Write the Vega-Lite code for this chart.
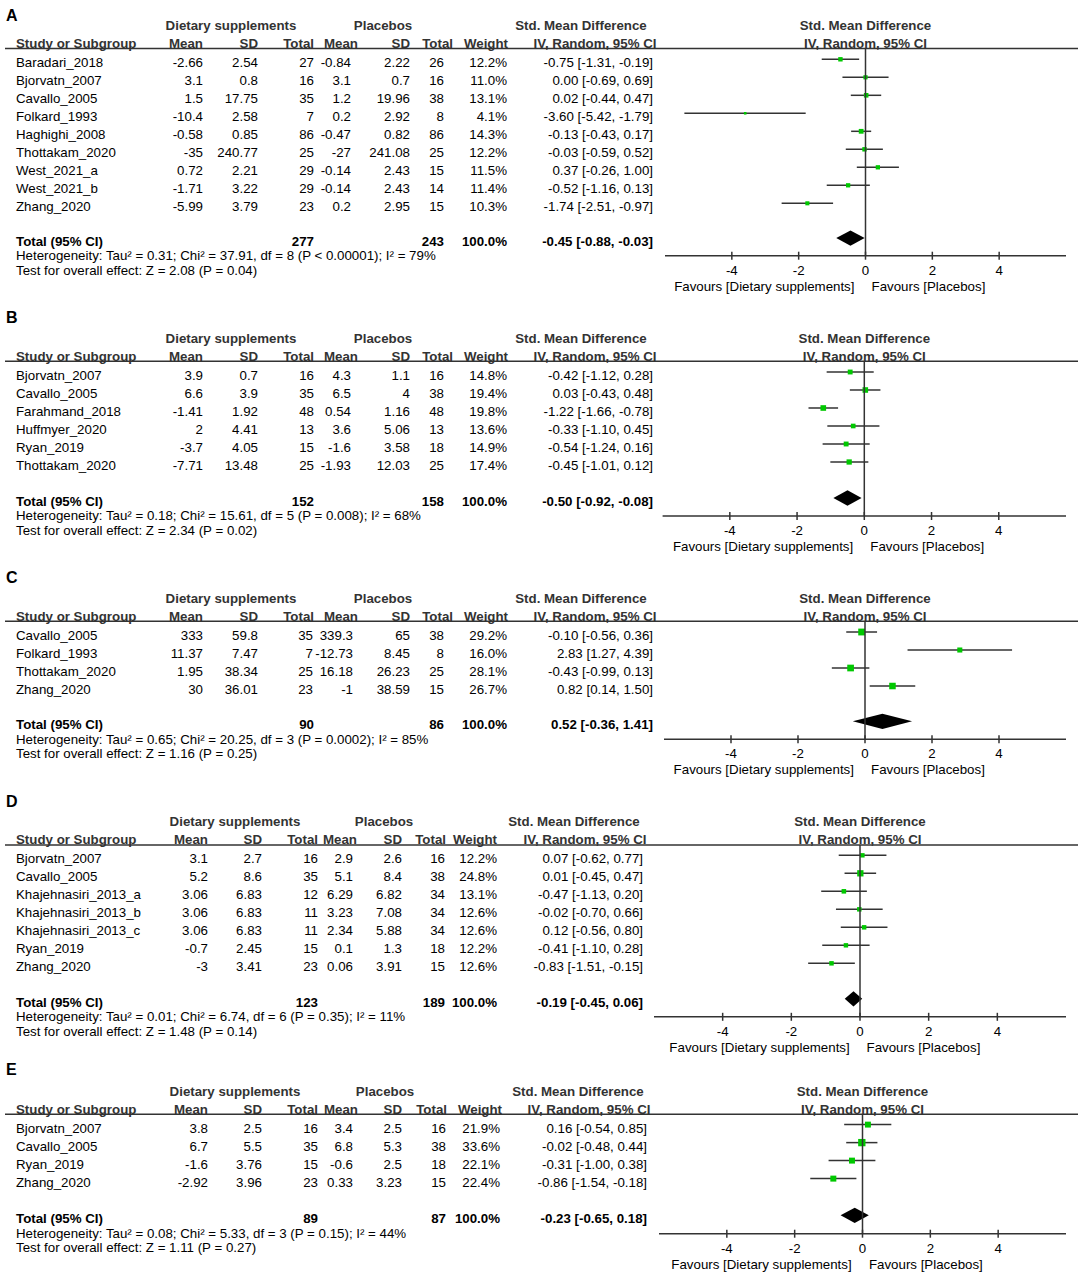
{
"$schema": "https://vega.github.io/schema/vega-lite/v6.json",
"background": "white",
"padding": 0,
"spacing": 0,
"bounds": "flush",
"config": {"view": {"stroke": null}, "text": {"font": "Liberation Sans", "fontSize": 13.3, "baseline": "middle", "dy": 4, "color": "black"}},
"datasets": {
"ticks": [{"v": -4}, {"v": -2}, {"v": 0}, {"v": 2}, {"v": 4}],
"A": [
{"study":"Baradari_2018","m1":-2.66,"sd1":2.54,"n1":27,"m2":-0.84,"sd2":2.22,"n2":26,"w":0.122,"est":-0.75,"lo":-1.31,"hi":-0.19,"ci":"-0.75 [-1.31, -0.19]"},
{"study":"Bjorvatn_2007","m1":3.1,"sd1":0.8,"n1":16,"m2":3.1,"sd2":0.7,"n2":16,"w":0.110,"est":0.00,"lo":-0.69,"hi":0.69,"ci":"0.00 [-0.69, 0.69]"},
{"study":"Cavallo_2005","m1":1.5,"sd1":17.75,"n1":35,"m2":1.2,"sd2":19.96,"n2":38,"w":0.131,"est":0.02,"lo":-0.44,"hi":0.47,"ci":"0.02 [-0.44, 0.47]"},
{"study":"Folkard_1993","m1":-10.4,"sd1":2.58,"n1":7,"m2":0.2,"sd2":2.92,"n2":8,"w":0.041,"est":-3.60,"lo":-5.42,"hi":-1.79,"ci":"-3.60 [-5.42, -1.79]"},
{"study":"Haghighi_2008","m1":-0.58,"sd1":0.85,"n1":86,"m2":-0.47,"sd2":0.82,"n2":86,"w":0.143,"est":-0.13,"lo":-0.43,"hi":0.17,"ci":"-0.13 [-0.43, 0.17]"},
{"study":"Thottakam_2020","m1":-35,"sd1":240.77,"n1":25,"m2":-27,"sd2":241.08,"n2":25,"w":0.122,"est":-0.03,"lo":-0.59,"hi":0.52,"ci":"-0.03 [-0.59, 0.52]"},
{"study":"West_2021_a","m1":0.72,"sd1":2.21,"n1":29,"m2":-0.14,"sd2":2.43,"n2":15,"w":0.115,"est":0.37,"lo":-0.26,"hi":1.00,"ci":"0.37 [-0.26, 1.00]"},
{"study":"West_2021_b","m1":-1.71,"sd1":3.22,"n1":29,"m2":-0.14,"sd2":2.43,"n2":14,"w":0.114,"est":-0.52,"lo":-1.16,"hi":0.13,"ci":"-0.52 [-1.16, 0.13]"},
{"study":"Zhang_2020","m1":-5.99,"sd1":3.79,"n1":23,"m2":0.2,"sd2":2.95,"n2":15,"w":0.103,"est":-1.74,"lo":-2.51,"hi":-0.97,"ci":"-1.74 [-2.51, -0.97]"}
],
"As": [{"n1":277,"n2":243,"est":-0.45,"lo":-0.88,"hi":-0.03,"ci":"-0.45 [-0.88, -0.03]","het":"Heterogeneity: Tau² = 0.31; Chi² = 37.91, df = 8 (P < 0.00001); I² = 79%","test":"Test for overall effect: Z = 2.08 (P = 0.04)"}],
"B": [
{"study":"Bjorvatn_2007","m1":3.9,"sd1":0.7,"n1":16,"m2":4.3,"sd2":1.1,"n2":16,"w":0.148,"est":-0.42,"lo":-1.12,"hi":0.28,"ci":"-0.42 [-1.12, 0.28]"},
{"study":"Cavallo_2005","m1":6.6,"sd1":3.9,"n1":35,"m2":6.5,"sd2":4,"n2":38,"w":0.194,"est":0.03,"lo":-0.43,"hi":0.48,"ci":"0.03 [-0.43, 0.48]"},
{"study":"Farahmand_2018","m1":-1.41,"sd1":1.92,"n1":48,"m2":0.54,"sd2":1.16,"n2":48,"w":0.198,"est":-1.22,"lo":-1.66,"hi":-0.78,"ci":"-1.22 [-1.66, -0.78]"},
{"study":"Huffmyer_2020","m1":2,"sd1":4.41,"n1":13,"m2":3.6,"sd2":5.06,"n2":13,"w":0.136,"est":-0.33,"lo":-1.10,"hi":0.45,"ci":"-0.33 [-1.10, 0.45]"},
{"study":"Ryan_2019","m1":-3.7,"sd1":4.05,"n1":15,"m2":-1.6,"sd2":3.58,"n2":18,"w":0.149,"est":-0.54,"lo":-1.24,"hi":0.16,"ci":"-0.54 [-1.24, 0.16]"},
{"study":"Thottakam_2020","m1":-7.71,"sd1":13.48,"n1":25,"m2":-1.93,"sd2":12.03,"n2":25,"w":0.174,"est":-0.45,"lo":-1.01,"hi":0.12,"ci":"-0.45 [-1.01, 0.12]"}
],
"Bs": [{"n1":152,"n2":158,"est":-0.50,"lo":-0.92,"hi":-0.08,"ci":"-0.50 [-0.92, -0.08]","het":"Heterogeneity: Tau² = 0.18; Chi² = 15.61, df = 5 (P = 0.008); I² = 68%","test":"Test for overall effect: Z = 2.34 (P = 0.02)"}],
"C": [
{"study":"Cavallo_2005","m1":333,"sd1":59.8,"n1":35,"m2":339.3,"sd2":65,"n2":38,"w":0.292,"est":-0.10,"lo":-0.56,"hi":0.36,"ci":"-0.10 [-0.56, 0.36]"},
{"study":"Folkard_1993","m1":11.37,"sd1":7.47,"n1":7,"m2":-12.73,"sd2":8.45,"n2":8,"w":0.160,"est":2.83,"lo":1.27,"hi":4.39,"ci":"2.83 [1.27, 4.39]"},
{"study":"Thottakam_2020","m1":1.95,"sd1":38.34,"n1":25,"m2":16.18,"sd2":26.23,"n2":25,"w":0.281,"est":-0.43,"lo":-0.99,"hi":0.13,"ci":"-0.43 [-0.99, 0.13]"},
{"study":"Zhang_2020","m1":30,"sd1":36.01,"n1":23,"m2":-1,"sd2":38.59,"n2":15,"w":0.267,"est":0.82,"lo":0.14,"hi":1.50,"ci":"0.82 [0.14, 1.50]"}
],
"Cs": [{"n1":90,"n2":86,"est":0.52,"lo":-0.36,"hi":1.41,"ci":"0.52 [-0.36, 1.41]","het":"Heterogeneity: Tau² = 0.65; Chi² = 20.25, df = 3 (P = 0.0002); I² = 85%","test":"Test for overall effect: Z = 1.16 (P = 0.25)"}],
"D": [
{"study":"Bjorvatn_2007","m1":3.1,"sd1":2.7,"n1":16,"m2":2.9,"sd2":2.6,"n2":16,"w":0.122,"est":0.07,"lo":-0.62,"hi":0.77,"ci":"0.07 [-0.62, 0.77]"},
{"study":"Cavallo_2005","m1":5.2,"sd1":8.6,"n1":35,"m2":5.1,"sd2":8.4,"n2":38,"w":0.248,"est":0.01,"lo":-0.45,"hi":0.47,"ci":"0.01 [-0.45, 0.47]"},
{"study":"Khajehnasiri_2013_a","m1":3.06,"sd1":6.83,"n1":12,"m2":6.29,"sd2":6.82,"n2":34,"w":0.131,"est":-0.47,"lo":-1.13,"hi":0.20,"ci":"-0.47 [-1.13, 0.20]"},
{"study":"Khajehnasiri_2013_b","m1":3.06,"sd1":6.83,"n1":11,"m2":3.23,"sd2":7.08,"n2":34,"w":0.126,"est":-0.02,"lo":-0.70,"hi":0.66,"ci":"-0.02 [-0.70, 0.66]"},
{"study":"Khajehnasiri_2013_c","m1":3.06,"sd1":6.83,"n1":11,"m2":2.34,"sd2":5.88,"n2":34,"w":0.126,"est":0.12,"lo":-0.56,"hi":0.80,"ci":"0.12 [-0.56, 0.80]"},
{"study":"Ryan_2019","m1":-0.7,"sd1":2.45,"n1":15,"m2":0.1,"sd2":1.3,"n2":18,"w":0.122,"est":-0.41,"lo":-1.10,"hi":0.28,"ci":"-0.41 [-1.10, 0.28]"},
{"study":"Zhang_2020","m1":-3,"sd1":3.41,"n1":23,"m2":0.06,"sd2":3.91,"n2":15,"w":0.126,"est":-0.83,"lo":-1.51,"hi":-0.15,"ci":"-0.83 [-1.51, -0.15]"}
],
"Ds": [{"n1":123,"n2":189,"est":-0.19,"lo":-0.45,"hi":0.06,"ci":"-0.19 [-0.45, 0.06]","het":"Heterogeneity: Tau² = 0.01; Chi² = 6.74, df = 6 (P = 0.35); I² = 11%","test":"Test for overall effect: Z = 1.48 (P = 0.14)"}],
"E": [
{"study":"Bjorvatn_2007","m1":3.8,"sd1":2.5,"n1":16,"m2":3.4,"sd2":2.5,"n2":16,"w":0.219,"est":0.16,"lo":-0.54,"hi":0.85,"ci":"0.16 [-0.54, 0.85]"},
{"study":"Cavallo_2005","m1":6.7,"sd1":5.5,"n1":35,"m2":6.8,"sd2":5.3,"n2":38,"w":0.336,"est":-0.02,"lo":-0.48,"hi":0.44,"ci":"-0.02 [-0.48, 0.44]"},
{"study":"Ryan_2019","m1":-1.6,"sd1":3.76,"n1":15,"m2":-0.6,"sd2":2.5,"n2":18,"w":0.221,"est":-0.31,"lo":-1.00,"hi":0.38,"ci":"-0.31 [-1.00, 0.38]"},
{"study":"Zhang_2020","m1":-2.92,"sd1":3.96,"n1":23,"m2":0.33,"sd2":3.23,"n2":15,"w":0.224,"est":-0.86,"lo":-1.54,"hi":-0.18,"ci":"-0.86 [-1.54, -0.18]"}
],
"Es": [{"n1":89,"n2":87,"est":-0.23,"lo":-0.65,"hi":0.18,"ci":"-0.23 [-0.65, 0.18]","het":"Heterogeneity: Tau² = 0.08; Chi² = 5.33, df = 3 (P = 0.15); I² = 44%","test":"Test for overall effect: Z = 1.11 (P = 0.27)"}]
},
"vconcat": [
{
"width": 1084, "height": 255.7,
"resolve": {"scale": {"x": "independent"}},
"layer": [
 {"layer": [
  {"data": {"name": "A"},
   "transform": [{"window": [{"op": "row_number", "as": "row"}]}],
   "encoding": {"y": {"field": "row", "type": "quantitative", "scale": {"domain": [-2.294, 11.91], "reverse": true, "nice": false, "zero": false}, "axis": null}},
   "layer": [
    {"mark": {"type": "text", "align": "left"}, "encoding": {"x": {"datum": 16, "type": "quantitative", "scale": {"domain": [0, 1084], "nice": false, "zero": false}, "axis": null}, "text": {"field": "study", "type": "nominal"}}},
    {"mark": {"type": "text", "align": "right"}, "encoding": {"x": {"datum": 203, "type": "quantitative", "axis": null}, "text": {"field": "m1", "type": "nominal"}}},
    {"mark": {"type": "text", "align": "right"}, "encoding": {"x": {"datum": 258, "type": "quantitative", "axis": null}, "text": {"field": "sd1", "type": "nominal"}}},
    {"mark": {"type": "text", "align": "right"}, "encoding": {"x": {"datum": 314, "type": "quantitative", "axis": null}, "text": {"field": "n1", "type": "nominal"}}},
    {"mark": {"type": "text", "align": "right"}, "encoding": {"x": {"datum": 351, "type": "quantitative", "axis": null}, "text": {"field": "m2", "type": "nominal"}}},
    {"mark": {"type": "text", "align": "right"}, "encoding": {"x": {"datum": 410, "type": "quantitative", "axis": null}, "text": {"field": "sd2", "type": "nominal"}}},
    {"mark": {"type": "text", "align": "right"}, "encoding": {"x": {"datum": 444, "type": "quantitative", "axis": null}, "text": {"field": "n2", "type": "nominal"}}},
    {"mark": {"type": "text", "align": "right"}, "encoding": {"x": {"datum": 507, "type": "quantitative", "axis": null}, "text": {"field": "w", "type": "quantitative", "format": ".1%"}}},
    {"mark": {"type": "text", "align": "right"}, "encoding": {"x": {"datum": 653, "type": "quantitative", "axis": null}, "text": {"field": "ci", "type": "nominal"}}}
   ]},
  {"data": {"name": "As"},
   "layer": [
    {"encoding": {"y": {"datum": 10.93, "type": "quantitative", "axis": null}},
     "layer": [
      {"mark": {"type": "text", "align": "left", "fontWeight": "bold"}, "encoding": {"x": {"datum": 16, "type": "quantitative", "axis": null}, "text": {"value": "Total (95% CI)"}}},
      {"mark": {"type": "text", "align": "right", "fontWeight": "bold"}, "encoding": {"x": {"datum": 314, "type": "quantitative", "axis": null}, "text": {"field": "n1", "type": "nominal"}}},
      {"mark": {"type": "text", "align": "right", "fontWeight": "bold"}, "encoding": {"x": {"datum": 444, "type": "quantitative", "axis": null}, "text": {"field": "n2", "type": "nominal"}}},
      {"mark": {"type": "text", "align": "right", "fontWeight": "bold"}, "encoding": {"x": {"datum": 507, "type": "quantitative", "axis": null}, "text": {"value": "100.0%"}}},
      {"mark": {"type": "text", "align": "right", "fontWeight": "bold"}, "encoding": {"x": {"datum": 653, "type": "quantitative", "axis": null}, "text": {"field": "ci", "type": "nominal"}}}
     ]},
    {"mark": {"type": "text", "align": "left"}, "encoding": {"x": {"datum": 16, "type": "quantitative", "axis": null}, "y": {"datum": 11.73, "type": "quantitative", "axis": null}, "text": {"field": "het", "type": "nominal"}}},
    {"mark": {"type": "text", "align": "left"}, "encoding": {"x": {"datum": 16, "type": "quantitative", "axis": null}, "y": {"datum": 12.53, "type": "quantitative", "axis": null}, "text": {"field": "test", "type": "nominal"}}},
    {"mark": {"type": "text", "align": "left", "fontWeight": "bold", "fontSize": 16}, "encoding": {"x": {"datum": 6, "type": "quantitative", "axis": null}, "y": {"datum": -1.65, "type": "quantitative", "axis": null}, "text": {"value": "A"}}},
    {"encoding": {"y": {"datum": -1.07, "type": "quantitative", "axis": null}},
     "layer": [
      {"mark": {"type": "text", "align": "center", "fontWeight": "bold", "color": "#333"}, "encoding": {"x": {"datum": 231, "type": "quantitative", "axis": null}, "text": {"value": "Dietary supplements"}}},
      {"mark": {"type": "text", "align": "center", "fontWeight": "bold", "color": "#333"}, "encoding": {"x": {"datum": 383, "type": "quantitative", "axis": null}, "text": {"value": "Placebos"}}},
      {"mark": {"type": "text", "align": "center", "fontWeight": "bold", "color": "#333"}, "encoding": {"x": {"datum": 581, "type": "quantitative", "axis": null}, "text": {"value": "Std. Mean Difference"}}}
     ]},
    {"encoding": {"y": {"datum": -0.06, "type": "quantitative", "axis": null}},
     "layer": [
      {"mark": {"type": "text", "align": "left", "fontWeight": "bold", "color": "#333"}, "encoding": {"x": {"datum": 16, "type": "quantitative", "axis": null}, "text": {"value": "Study or Subgroup"}}},
      {"mark": {"type": "text", "align": "right", "fontWeight": "bold", "color": "#333"}, "encoding": {"x": {"datum": 203, "type": "quantitative", "axis": null}, "text": {"value": "Mean"}}},
      {"mark": {"type": "text", "align": "right", "fontWeight": "bold", "color": "#333"}, "encoding": {"x": {"datum": 258, "type": "quantitative", "axis": null}, "text": {"value": "SD"}}},
      {"mark": {"type": "text", "align": "right", "fontWeight": "bold", "color": "#333"}, "encoding": {"x": {"datum": 314, "type": "quantitative", "axis": null}, "text": {"value": "Total"}}},
      {"mark": {"type": "text", "align": "right", "fontWeight": "bold", "color": "#333"}, "encoding": {"x": {"datum": 358, "type": "quantitative", "axis": null}, "text": {"value": "Mean"}}},
      {"mark": {"type": "text", "align": "right", "fontWeight": "bold", "color": "#333"}, "encoding": {"x": {"datum": 410, "type": "quantitative", "axis": null}, "text": {"value": "SD"}}},
      {"mark": {"type": "text", "align": "right", "fontWeight": "bold", "color": "#333"}, "encoding": {"x": {"datum": 453, "type": "quantitative", "axis": null}, "text": {"value": "Total"}}},
      {"mark": {"type": "text", "align": "right", "fontWeight": "bold", "color": "#333"}, "encoding": {"x": {"datum": 508, "type": "quantitative", "axis": null}, "text": {"value": "Weight"}}},
      {"mark": {"type": "text", "align": "center", "fontWeight": "bold", "color": "#333"}, "encoding": {"x": {"datum": 595, "type": "quantitative", "axis": null}, "text": {"value": "IV, Random, 95% CI"}}}
     ]},
    {"mark": {"type": "rule", "color": "#333", "strokeWidth": 1.5}, "encoding": {"x": {"datum": 5, "type": "quantitative", "axis": null}, "x2": {"datum": 1078}, "y": {"datum": 0.4, "type": "quantitative", "axis": null}}}
   ]}
 ]},
 {"layer": [
  {"data": {"name": "As"}, "mark": {"type": "rule", "color": "#333", "strokeWidth": 1.5}, "encoding": {"x": {"datum": -6, "type": "quantitative", "scale": {"domain": [-6, 6], "range": [665, 1066], "nice": false, "zero": false}, "axis": null}, "x2": {"datum": 6}, "y": {"datum": 11.91, "type": "quantitative", "scale": {"domain": [-2.294, 11.91], "reverse": true, "nice": false, "zero": false}, "axis": null}}},
  {"data": {"name": "ticks"}, "mark": {"type": "rule", "color": "#333", "strokeWidth": 1.5}, "encoding": {"x": {"field": "v", "type": "quantitative", "axis": null}, "y": {"datum": 11.688, "type": "quantitative", "axis": null}, "y2": {"datum": 12.132}}},
  {"data": {"name": "ticks"}, "mark": {"type": "text", "align": "center"}, "encoding": {"x": {"field": "v", "type": "quantitative", "axis": null}, "y": {"datum": 12.51, "type": "quantitative", "axis": null}, "text": {"field": "v", "type": "nominal"}}},
  {"data": {"name": "A"}, "transform": [{"window": [{"op": "row_number", "as": "row"}]}], "mark": {"type": "rule", "color": "#333", "strokeWidth": 1.5}, "encoding": {"x": {"field": "lo", "type": "quantitative", "axis": null}, "x2": {"field": "hi"}, "y": {"field": "row", "type": "quantitative", "axis": null}}},
  {"data": {"name": "A"}, "transform": [{"window": [{"op": "row_number", "as": "row"}]}], "mark": {"type": "point", "shape": "square", "filled": true, "color": "#00c800", "opacity": 1, "strokeWidth": 0}, "encoding": {"x": {"field": "est", "type": "quantitative", "axis": null}, "y": {"field": "row", "type": "quantitative", "axis": null}, "size": {"field": "w", "type": "quantitative", "scale": {"domain": [0, 1], "range": [0, 160]}, "legend": null}}},
  {"data": {"name": "As"}, "mark": {"type": "point", "shape": "M-1,0L0,-0.539L1,0L0,0.539Z", "size": 807, "filled": true, "color": "#000", "opacity": 1, "strokeWidth": 0}, "encoding": {"x": {"field": "est", "type": "quantitative", "axis": null}, "y": {"datum": 10.93, "type": "quantitative", "axis": null}}},
  {"data": {"name": "As"}, "mark": {"type": "rule", "color": "#333", "strokeWidth": 1.5}, "encoding": {"x": {"datum": 0, "type": "quantitative", "axis": null}, "y": {"datum": 0.4, "type": "quantitative", "axis": null}, "y2": {"datum": 11.91}}},
  {"data": {"name": "As"}, "mark": {"type": "text", "align": "center", "fontWeight": "bold", "color": "#333"}, "encoding": {"x": {"datum": 0, "type": "quantitative", "axis": null}, "y": {"datum": -1.07, "type": "quantitative", "axis": null}, "text": {"value": "Std. Mean Difference"}}},
  {"data": {"name": "As"}, "mark": {"type": "text", "align": "center", "fontWeight": "bold", "color": "#333"}, "encoding": {"x": {"datum": 0, "type": "quantitative", "axis": null}, "y": {"datum": -0.06, "type": "quantitative", "axis": null}, "text": {"value": "IV, Random, 95% CI"}}},
  {"data": {"name": "As"}, "mark": {"type": "text", "align": "right"}, "encoding": {"x": {"datum": -0.33, "type": "quantitative", "axis": null}, "y": {"datum": 13.41, "type": "quantitative", "axis": null}, "text": {"value": "Favours [Dietary supplements]"}}},
  {"data": {"name": "As"}, "mark": {"type": "text", "align": "left"}, "encoding": {"x": {"datum": 0.18, "type": "quantitative", "axis": null}, "y": {"datum": 13.41, "type": "quantitative", "axis": null}, "text": {"value": "Favours [Placebos]"}}}
 ]}
]
},
{
"width": 1084, "height": 260.0,
"resolve": {"scale": {"x": "independent"}},
"layer": [
 {"layer": [
  {"data": {"name": "B"},
   "transform": [{"window": [{"op": "row_number", "as": "row"}]}],
   "encoding": {"y": {"field": "row", "type": "quantitative", "scale": {"domain": [-5.444, 9.0], "reverse": true, "nice": false, "zero": false}, "axis": null}},
   "layer": [
    {"mark": {"type": "text", "align": "left"}, "encoding": {"x": {"datum": 16, "type": "quantitative", "scale": {"domain": [0, 1084], "nice": false, "zero": false}, "axis": null}, "text": {"field": "study", "type": "nominal"}}},
    {"mark": {"type": "text", "align": "right"}, "encoding": {"x": {"datum": 203, "type": "quantitative", "axis": null}, "text": {"field": "m1", "type": "nominal"}}},
    {"mark": {"type": "text", "align": "right"}, "encoding": {"x": {"datum": 258, "type": "quantitative", "axis": null}, "text": {"field": "sd1", "type": "nominal"}}},
    {"mark": {"type": "text", "align": "right"}, "encoding": {"x": {"datum": 314, "type": "quantitative", "axis": null}, "text": {"field": "n1", "type": "nominal"}}},
    {"mark": {"type": "text", "align": "right"}, "encoding": {"x": {"datum": 351, "type": "quantitative", "axis": null}, "text": {"field": "m2", "type": "nominal"}}},
    {"mark": {"type": "text", "align": "right"}, "encoding": {"x": {"datum": 410, "type": "quantitative", "axis": null}, "text": {"field": "sd2", "type": "nominal"}}},
    {"mark": {"type": "text", "align": "right"}, "encoding": {"x": {"datum": 444, "type": "quantitative", "axis": null}, "text": {"field": "n2", "type": "nominal"}}},
    {"mark": {"type": "text", "align": "right"}, "encoding": {"x": {"datum": 507, "type": "quantitative", "axis": null}, "text": {"field": "w", "type": "quantitative", "format": ".1%"}}},
    {"mark": {"type": "text", "align": "right"}, "encoding": {"x": {"datum": 653, "type": "quantitative", "axis": null}, "text": {"field": "ci", "type": "nominal"}}}
   ]},
  {"data": {"name": "Bs"},
   "layer": [
    {"encoding": {"y": {"datum": 8.0, "type": "quantitative", "axis": null}},
     "layer": [
      {"mark": {"type": "text", "align": "left", "fontWeight": "bold"}, "encoding": {"x": {"datum": 16, "type": "quantitative", "axis": null}, "text": {"value": "Total (95% CI)"}}},
      {"mark": {"type": "text", "align": "right", "fontWeight": "bold"}, "encoding": {"x": {"datum": 314, "type": "quantitative", "axis": null}, "text": {"field": "n1", "type": "nominal"}}},
      {"mark": {"type": "text", "align": "right", "fontWeight": "bold"}, "encoding": {"x": {"datum": 444, "type": "quantitative", "axis": null}, "text": {"field": "n2", "type": "nominal"}}},
      {"mark": {"type": "text", "align": "right", "fontWeight": "bold"}, "encoding": {"x": {"datum": 507, "type": "quantitative", "axis": null}, "text": {"value": "100.0%"}}},
      {"mark": {"type": "text", "align": "right", "fontWeight": "bold"}, "encoding": {"x": {"datum": 653, "type": "quantitative", "axis": null}, "text": {"field": "ci", "type": "nominal"}}}
     ]},
    {"mark": {"type": "text", "align": "left"}, "encoding": {"x": {"datum": 16, "type": "quantitative", "axis": null}, "y": {"datum": 8.8, "type": "quantitative", "axis": null}, "text": {"field": "het", "type": "nominal"}}},
    {"mark": {"type": "text", "align": "left"}, "encoding": {"x": {"datum": 16, "type": "quantitative", "axis": null}, "y": {"datum": 9.6, "type": "quantitative", "axis": null}, "text": {"field": "test", "type": "nominal"}}},
    {"mark": {"type": "text", "align": "left", "fontWeight": "bold", "fontSize": 16}, "encoding": {"x": {"datum": 6, "type": "quantitative", "axis": null}, "y": {"datum": -2.24, "type": "quantitative", "axis": null}, "text": {"value": "B"}}},
    {"encoding": {"y": {"datum": -1.07, "type": "quantitative", "axis": null}},
     "layer": [
      {"mark": {"type": "text", "align": "center", "fontWeight": "bold", "color": "#333"}, "encoding": {"x": {"datum": 231, "type": "quantitative", "axis": null}, "text": {"value": "Dietary supplements"}}},
      {"mark": {"type": "text", "align": "center", "fontWeight": "bold", "color": "#333"}, "encoding": {"x": {"datum": 383, "type": "quantitative", "axis": null}, "text": {"value": "Placebos"}}},
      {"mark": {"type": "text", "align": "center", "fontWeight": "bold", "color": "#333"}, "encoding": {"x": {"datum": 581, "type": "quantitative", "axis": null}, "text": {"value": "Std. Mean Difference"}}}
     ]},
    {"encoding": {"y": {"datum": -0.06, "type": "quantitative", "axis": null}},
     "layer": [
      {"mark": {"type": "text", "align": "left", "fontWeight": "bold", "color": "#333"}, "encoding": {"x": {"datum": 16, "type": "quantitative", "axis": null}, "text": {"value": "Study or Subgroup"}}},
      {"mark": {"type": "text", "align": "right", "fontWeight": "bold", "color": "#333"}, "encoding": {"x": {"datum": 203, "type": "quantitative", "axis": null}, "text": {"value": "Mean"}}},
      {"mark": {"type": "text", "align": "right", "fontWeight": "bold", "color": "#333"}, "encoding": {"x": {"datum": 258, "type": "quantitative", "axis": null}, "text": {"value": "SD"}}},
      {"mark": {"type": "text", "align": "right", "fontWeight": "bold", "color": "#333"}, "encoding": {"x": {"datum": 314, "type": "quantitative", "axis": null}, "text": {"value": "Total"}}},
      {"mark": {"type": "text", "align": "right", "fontWeight": "bold", "color": "#333"}, "encoding": {"x": {"datum": 358, "type": "quantitative", "axis": null}, "text": {"value": "Mean"}}},
      {"mark": {"type": "text", "align": "right", "fontWeight": "bold", "color": "#333"}, "encoding": {"x": {"datum": 410, "type": "quantitative", "axis": null}, "text": {"value": "SD"}}},
      {"mark": {"type": "text", "align": "right", "fontWeight": "bold", "color": "#333"}, "encoding": {"x": {"datum": 453, "type": "quantitative", "axis": null}, "text": {"value": "Total"}}},
      {"mark": {"type": "text", "align": "right", "fontWeight": "bold", "color": "#333"}, "encoding": {"x": {"datum": 508, "type": "quantitative", "axis": null}, "text": {"value": "Weight"}}},
      {"mark": {"type": "text", "align": "center", "fontWeight": "bold", "color": "#333"}, "encoding": {"x": {"datum": 595, "type": "quantitative", "axis": null}, "text": {"value": "IV, Random, 95% CI"}}}
     ]},
    {"mark": {"type": "rule", "color": "#333", "strokeWidth": 1.5}, "encoding": {"x": {"datum": 5, "type": "quantitative", "axis": null}, "x2": {"datum": 1078}, "y": {"datum": 0.4, "type": "quantitative", "axis": null}}}
   ]}
 ]},
 {"layer": [
  {"data": {"name": "Bs"}, "mark": {"type": "rule", "color": "#333", "strokeWidth": 1.5}, "encoding": {"x": {"datum": -6, "type": "quantitative", "scale": {"domain": [-6, 6], "range": [662.6, 1066], "nice": false, "zero": false}, "axis": null}, "x2": {"datum": 6}, "y": {"datum": 9.0, "type": "quantitative", "scale": {"domain": [-5.444, 9.0], "reverse": true, "nice": false, "zero": false}, "axis": null}}},
  {"data": {"name": "ticks"}, "mark": {"type": "rule", "color": "#333", "strokeWidth": 1.5}, "encoding": {"x": {"field": "v", "type": "quantitative", "axis": null}, "y": {"datum": 8.778, "type": "quantitative", "axis": null}, "y2": {"datum": 9.222}}},
  {"data": {"name": "ticks"}, "mark": {"type": "text", "align": "center"}, "encoding": {"x": {"field": "v", "type": "quantitative", "axis": null}, "y": {"datum": 9.6, "type": "quantitative", "axis": null}, "text": {"field": "v", "type": "nominal"}}},
  {"data": {"name": "B"}, "transform": [{"window": [{"op": "row_number", "as": "row"}]}], "mark": {"type": "rule", "color": "#333", "strokeWidth": 1.5}, "encoding": {"x": {"field": "lo", "type": "quantitative", "axis": null}, "x2": {"field": "hi"}, "y": {"field": "row", "type": "quantitative", "axis": null}}},
  {"data": {"name": "B"}, "transform": [{"window": [{"op": "row_number", "as": "row"}]}], "mark": {"type": "point", "shape": "square", "filled": true, "color": "#00c800", "opacity": 1, "strokeWidth": 0}, "encoding": {"x": {"field": "est", "type": "quantitative", "axis": null}, "y": {"field": "row", "type": "quantitative", "axis": null}, "size": {"field": "w", "type": "quantitative", "scale": {"domain": [0, 1], "range": [0, 160]}, "legend": null}}},
  {"data": {"name": "Bs"}, "mark": {"type": "point", "shape": "M-1,0L0,-0.543L1,0L0,0.543Z", "size": 795, "filled": true, "color": "#000", "opacity": 1, "strokeWidth": 0}, "encoding": {"x": {"field": "est", "type": "quantitative", "axis": null}, "y": {"datum": 8.0, "type": "quantitative", "axis": null}}},
  {"data": {"name": "Bs"}, "mark": {"type": "rule", "color": "#333", "strokeWidth": 1.5}, "encoding": {"x": {"datum": 0, "type": "quantitative", "axis": null}, "y": {"datum": 0.4, "type": "quantitative", "axis": null}, "y2": {"datum": 9.0}}},
  {"data": {"name": "Bs"}, "mark": {"type": "text", "align": "center", "fontWeight": "bold", "color": "#333"}, "encoding": {"x": {"datum": 0, "type": "quantitative", "axis": null}, "y": {"datum": -1.07, "type": "quantitative", "axis": null}, "text": {"value": "Std. Mean Difference"}}},
  {"data": {"name": "Bs"}, "mark": {"type": "text", "align": "center", "fontWeight": "bold", "color": "#333"}, "encoding": {"x": {"datum": 0, "type": "quantitative", "axis": null}, "y": {"datum": -0.06, "type": "quantitative", "axis": null}, "text": {"value": "IV, Random, 95% CI"}}},
  {"data": {"name": "Bs"}, "mark": {"type": "text", "align": "right"}, "encoding": {"x": {"datum": -0.33, "type": "quantitative", "axis": null}, "y": {"datum": 10.5, "type": "quantitative", "axis": null}, "text": {"value": "Favours [Dietary supplements]"}}},
  {"data": {"name": "Bs"}, "mark": {"type": "text", "align": "left"}, "encoding": {"x": {"datum": 0.18, "type": "quantitative", "axis": null}, "y": {"datum": 10.5, "type": "quantitative", "axis": null}, "text": {"value": "Favours [Placebos]"}}}
 ]}
]
},
{
"width": 1084, "height": 223.3,
"resolve": {"scale": {"x": "independent"}},
"layer": [
 {"layer": [
  {"data": {"name": "C"},
   "transform": [{"window": [{"op": "row_number", "as": "row"}]}],
   "encoding": {"y": {"field": "row", "type": "quantitative", "scale": {"domain": [-5.444, 6.96], "reverse": true, "nice": false, "zero": false}, "axis": null}},
   "layer": [
    {"mark": {"type": "text", "align": "left"}, "encoding": {"x": {"datum": 16, "type": "quantitative", "scale": {"domain": [0, 1084], "nice": false, "zero": false}, "axis": null}, "text": {"field": "study", "type": "nominal"}}},
    {"mark": {"type": "text", "align": "right"}, "encoding": {"x": {"datum": 203, "type": "quantitative", "axis": null}, "text": {"field": "m1", "type": "nominal"}}},
    {"mark": {"type": "text", "align": "right"}, "encoding": {"x": {"datum": 258, "type": "quantitative", "axis": null}, "text": {"field": "sd1", "type": "nominal"}}},
    {"mark": {"type": "text", "align": "right"}, "encoding": {"x": {"datum": 313, "type": "quantitative", "axis": null}, "text": {"field": "n1", "type": "nominal"}}},
    {"mark": {"type": "text", "align": "right"}, "encoding": {"x": {"datum": 353, "type": "quantitative", "axis": null}, "text": {"field": "m2", "type": "nominal"}}},
    {"mark": {"type": "text", "align": "right"}, "encoding": {"x": {"datum": 410, "type": "quantitative", "axis": null}, "text": {"field": "sd2", "type": "nominal"}}},
    {"mark": {"type": "text", "align": "right"}, "encoding": {"x": {"datum": 444, "type": "quantitative", "axis": null}, "text": {"field": "n2", "type": "nominal"}}},
    {"mark": {"type": "text", "align": "right"}, "encoding": {"x": {"datum": 507, "type": "quantitative", "axis": null}, "text": {"field": "w", "type": "quantitative", "format": ".1%"}}},
    {"mark": {"type": "text", "align": "right"}, "encoding": {"x": {"datum": 653, "type": "quantitative", "axis": null}, "text": {"field": "ci", "type": "nominal"}}}
   ]},
  {"data": {"name": "Cs"},
   "layer": [
    {"encoding": {"y": {"datum": 5.96, "type": "quantitative", "axis": null}},
     "layer": [
      {"mark": {"type": "text", "align": "left", "fontWeight": "bold"}, "encoding": {"x": {"datum": 16, "type": "quantitative", "axis": null}, "text": {"value": "Total (95% CI)"}}},
      {"mark": {"type": "text", "align": "right", "fontWeight": "bold"}, "encoding": {"x": {"datum": 314, "type": "quantitative", "axis": null}, "text": {"field": "n1", "type": "nominal"}}},
      {"mark": {"type": "text", "align": "right", "fontWeight": "bold"}, "encoding": {"x": {"datum": 444, "type": "quantitative", "axis": null}, "text": {"field": "n2", "type": "nominal"}}},
      {"mark": {"type": "text", "align": "right", "fontWeight": "bold"}, "encoding": {"x": {"datum": 507, "type": "quantitative", "axis": null}, "text": {"value": "100.0%"}}},
      {"mark": {"type": "text", "align": "right", "fontWeight": "bold"}, "encoding": {"x": {"datum": 653, "type": "quantitative", "axis": null}, "text": {"field": "ci", "type": "nominal"}}}
     ]},
    {"mark": {"type": "text", "align": "left"}, "encoding": {"x": {"datum": 16, "type": "quantitative", "axis": null}, "y": {"datum": 6.76, "type": "quantitative", "axis": null}, "text": {"field": "het", "type": "nominal"}}},
    {"mark": {"type": "text", "align": "left"}, "encoding": {"x": {"datum": 16, "type": "quantitative", "axis": null}, "y": {"datum": 7.56, "type": "quantitative", "axis": null}, "text": {"field": "test", "type": "nominal"}}},
    {"mark": {"type": "text", "align": "left", "fontWeight": "bold", "fontSize": 16}, "encoding": {"x": {"datum": 6, "type": "quantitative", "axis": null}, "y": {"datum": -2.23, "type": "quantitative", "axis": null}, "text": {"value": "C"}}},
    {"encoding": {"y": {"datum": -1.07, "type": "quantitative", "axis": null}},
     "layer": [
      {"mark": {"type": "text", "align": "center", "fontWeight": "bold", "color": "#333"}, "encoding": {"x": {"datum": 231, "type": "quantitative", "axis": null}, "text": {"value": "Dietary supplements"}}},
      {"mark": {"type": "text", "align": "center", "fontWeight": "bold", "color": "#333"}, "encoding": {"x": {"datum": 383, "type": "quantitative", "axis": null}, "text": {"value": "Placebos"}}},
      {"mark": {"type": "text", "align": "center", "fontWeight": "bold", "color": "#333"}, "encoding": {"x": {"datum": 581, "type": "quantitative", "axis": null}, "text": {"value": "Std. Mean Difference"}}}
     ]},
    {"encoding": {"y": {"datum": -0.06, "type": "quantitative", "axis": null}},
     "layer": [
      {"mark": {"type": "text", "align": "left", "fontWeight": "bold", "color": "#333"}, "encoding": {"x": {"datum": 16, "type": "quantitative", "axis": null}, "text": {"value": "Study or Subgroup"}}},
      {"mark": {"type": "text", "align": "right", "fontWeight": "bold", "color": "#333"}, "encoding": {"x": {"datum": 203, "type": "quantitative", "axis": null}, "text": {"value": "Mean"}}},
      {"mark": {"type": "text", "align": "right", "fontWeight": "bold", "color": "#333"}, "encoding": {"x": {"datum": 258, "type": "quantitative", "axis": null}, "text": {"value": "SD"}}},
      {"mark": {"type": "text", "align": "right", "fontWeight": "bold", "color": "#333"}, "encoding": {"x": {"datum": 314, "type": "quantitative", "axis": null}, "text": {"value": "Total"}}},
      {"mark": {"type": "text", "align": "right", "fontWeight": "bold", "color": "#333"}, "encoding": {"x": {"datum": 358, "type": "quantitative", "axis": null}, "text": {"value": "Mean"}}},
      {"mark": {"type": "text", "align": "right", "fontWeight": "bold", "color": "#333"}, "encoding": {"x": {"datum": 410, "type": "quantitative", "axis": null}, "text": {"value": "SD"}}},
      {"mark": {"type": "text", "align": "right", "fontWeight": "bold", "color": "#333"}, "encoding": {"x": {"datum": 453, "type": "quantitative", "axis": null}, "text": {"value": "Total"}}},
      {"mark": {"type": "text", "align": "right", "fontWeight": "bold", "color": "#333"}, "encoding": {"x": {"datum": 508, "type": "quantitative", "axis": null}, "text": {"value": "Weight"}}},
      {"mark": {"type": "text", "align": "center", "fontWeight": "bold", "color": "#333"}, "encoding": {"x": {"datum": 595, "type": "quantitative", "axis": null}, "text": {"value": "IV, Random, 95% CI"}}}
     ]},
    {"mark": {"type": "rule", "color": "#333", "strokeWidth": 1.5}, "encoding": {"x": {"datum": 5, "type": "quantitative", "axis": null}, "x2": {"datum": 1078}, "y": {"datum": 0.4, "type": "quantitative", "axis": null}}}
   ]}
 ]},
 {"layer": [
  {"data": {"name": "Cs"}, "mark": {"type": "rule", "color": "#333", "strokeWidth": 1.5}, "encoding": {"x": {"datum": -6, "type": "quantitative", "scale": {"domain": [-6, 6], "range": [664, 1066], "nice": false, "zero": false}, "axis": null}, "x2": {"datum": 6}, "y": {"datum": 6.96, "type": "quantitative", "scale": {"domain": [-5.444, 6.96], "reverse": true, "nice": false, "zero": false}, "axis": null}}},
  {"data": {"name": "ticks"}, "mark": {"type": "rule", "color": "#333", "strokeWidth": 1.5}, "encoding": {"x": {"field": "v", "type": "quantitative", "axis": null}, "y": {"datum": 6.738, "type": "quantitative", "axis": null}, "y2": {"datum": 7.182}}},
  {"data": {"name": "ticks"}, "mark": {"type": "text", "align": "center"}, "encoding": {"x": {"field": "v", "type": "quantitative", "axis": null}, "y": {"datum": 7.56, "type": "quantitative", "axis": null}, "text": {"field": "v", "type": "nominal"}}},
  {"data": {"name": "C"}, "transform": [{"window": [{"op": "row_number", "as": "row"}]}], "mark": {"type": "rule", "color": "#333", "strokeWidth": 1.5}, "encoding": {"x": {"field": "lo", "type": "quantitative", "axis": null}, "x2": {"field": "hi"}, "y": {"field": "row", "type": "quantitative", "axis": null}}},
  {"data": {"name": "C"}, "transform": [{"window": [{"op": "row_number", "as": "row"}]}], "mark": {"type": "point", "shape": "square", "filled": true, "color": "#00c800", "opacity": 1, "strokeWidth": 0}, "encoding": {"x": {"field": "est", "type": "quantitative", "axis": null}, "y": {"field": "row", "type": "quantitative", "axis": null}, "size": {"field": "w", "type": "quantitative", "scale": {"domain": [0, 1], "range": [0, 160]}, "legend": null}}},
  {"data": {"name": "Cs"}, "mark": {"type": "point", "shape": "M-1,0L0,-0.258L1,0L0,0.258Z", "size": 3516, "filled": true, "color": "#000", "opacity": 1, "strokeWidth": 0}, "encoding": {"x": {"field": "est", "type": "quantitative", "axis": null}, "y": {"datum": 5.96, "type": "quantitative", "axis": null}}},
  {"data": {"name": "Cs"}, "mark": {"type": "rule", "color": "#333", "strokeWidth": 1.5}, "encoding": {"x": {"datum": 0, "type": "quantitative", "axis": null}, "y": {"datum": 0.4, "type": "quantitative", "axis": null}, "y2": {"datum": 6.96}}},
  {"data": {"name": "Cs"}, "mark": {"type": "text", "align": "center", "fontWeight": "bold", "color": "#333"}, "encoding": {"x": {"datum": 0, "type": "quantitative", "axis": null}, "y": {"datum": -1.07, "type": "quantitative", "axis": null}, "text": {"value": "Std. Mean Difference"}}},
  {"data": {"name": "Cs"}, "mark": {"type": "text", "align": "center", "fontWeight": "bold", "color": "#333"}, "encoding": {"x": {"datum": 0, "type": "quantitative", "axis": null}, "y": {"datum": -0.06, "type": "quantitative", "axis": null}, "text": {"value": "IV, Random, 95% CI"}}},
  {"data": {"name": "Cs"}, "mark": {"type": "text", "align": "right"}, "encoding": {"x": {"datum": -0.33, "type": "quantitative", "axis": null}, "y": {"datum": 8.46, "type": "quantitative", "axis": null}, "text": {"value": "Favours [Dietary supplements]"}}},
  {"data": {"name": "Cs"}, "mark": {"type": "text", "align": "left"}, "encoding": {"x": {"datum": 0.18, "type": "quantitative", "axis": null}, "y": {"datum": 8.46, "type": "quantitative", "axis": null}, "text": {"value": "Favours [Placebos]"}}}
 ]}
]
},
{
"width": 1084, "height": 276.8,
"resolve": {"scale": {"x": "independent"}},
"layer": [
 {"layer": [
  {"data": {"name": "D"},
   "transform": [{"window": [{"op": "row_number", "as": "row"}]}],
   "encoding": {"y": {"field": "row", "type": "quantitative", "scale": {"domain": [-5.406, 9.97], "reverse": true, "nice": false, "zero": false}, "axis": null}},
   "layer": [
    {"mark": {"type": "text", "align": "left"}, "encoding": {"x": {"datum": 16, "type": "quantitative", "scale": {"domain": [0, 1084], "nice": false, "zero": false}, "axis": null}, "text": {"field": "study", "type": "nominal"}}},
    {"mark": {"type": "text", "align": "right"}, "encoding": {"x": {"datum": 208, "type": "quantitative", "axis": null}, "text": {"field": "m1", "type": "nominal"}}},
    {"mark": {"type": "text", "align": "right"}, "encoding": {"x": {"datum": 262, "type": "quantitative", "axis": null}, "text": {"field": "sd1", "type": "nominal"}}},
    {"mark": {"type": "text", "align": "right"}, "encoding": {"x": {"datum": 318, "type": "quantitative", "axis": null}, "text": {"field": "n1", "type": "nominal"}}},
    {"mark": {"type": "text", "align": "right"}, "encoding": {"x": {"datum": 353, "type": "quantitative", "axis": null}, "text": {"field": "m2", "type": "nominal"}}},
    {"mark": {"type": "text", "align": "right"}, "encoding": {"x": {"datum": 402, "type": "quantitative", "axis": null}, "text": {"field": "sd2", "type": "nominal"}}},
    {"mark": {"type": "text", "align": "right"}, "encoding": {"x": {"datum": 445, "type": "quantitative", "axis": null}, "text": {"field": "n2", "type": "nominal"}}},
    {"mark": {"type": "text", "align": "right"}, "encoding": {"x": {"datum": 497, "type": "quantitative", "axis": null}, "text": {"field": "w", "type": "quantitative", "format": ".1%"}}},
    {"mark": {"type": "text", "align": "right"}, "encoding": {"x": {"datum": 643, "type": "quantitative", "axis": null}, "text": {"field": "ci", "type": "nominal"}}}
   ]},
  {"data": {"name": "Ds"},
   "layer": [
    {"encoding": {"y": {"datum": 8.97, "type": "quantitative", "axis": null}},
     "layer": [
      {"mark": {"type": "text", "align": "left", "fontWeight": "bold"}, "encoding": {"x": {"datum": 16, "type": "quantitative", "axis": null}, "text": {"value": "Total (95% CI)"}}},
      {"mark": {"type": "text", "align": "right", "fontWeight": "bold"}, "encoding": {"x": {"datum": 318, "type": "quantitative", "axis": null}, "text": {"field": "n1", "type": "nominal"}}},
      {"mark": {"type": "text", "align": "right", "fontWeight": "bold"}, "encoding": {"x": {"datum": 445, "type": "quantitative", "axis": null}, "text": {"field": "n2", "type": "nominal"}}},
      {"mark": {"type": "text", "align": "right", "fontWeight": "bold"}, "encoding": {"x": {"datum": 497, "type": "quantitative", "axis": null}, "text": {"value": "100.0%"}}},
      {"mark": {"type": "text", "align": "right", "fontWeight": "bold"}, "encoding": {"x": {"datum": 643, "type": "quantitative", "axis": null}, "text": {"field": "ci", "type": "nominal"}}}
     ]},
    {"mark": {"type": "text", "align": "left"}, "encoding": {"x": {"datum": 16, "type": "quantitative", "axis": null}, "y": {"datum": 9.77, "type": "quantitative", "axis": null}, "text": {"field": "het", "type": "nominal"}}},
    {"mark": {"type": "text", "align": "left"}, "encoding": {"x": {"datum": 16, "type": "quantitative", "axis": null}, "y": {"datum": 10.57, "type": "quantitative", "axis": null}, "text": {"field": "test", "type": "nominal"}}},
    {"mark": {"type": "text", "align": "left", "fontWeight": "bold", "fontSize": 16}, "encoding": {"x": {"datum": 6, "type": "quantitative", "axis": null}, "y": {"datum": -2.21, "type": "quantitative", "axis": null}, "text": {"value": "D"}}},
    {"encoding": {"y": {"datum": -1.05, "type": "quantitative", "axis": null}},
     "layer": [
      {"mark": {"type": "text", "align": "center", "fontWeight": "bold", "color": "#333"}, "encoding": {"x": {"datum": 235, "type": "quantitative", "axis": null}, "text": {"value": "Dietary supplements"}}},
      {"mark": {"type": "text", "align": "center", "fontWeight": "bold", "color": "#333"}, "encoding": {"x": {"datum": 384, "type": "quantitative", "axis": null}, "text": {"value": "Placebos"}}},
      {"mark": {"type": "text", "align": "center", "fontWeight": "bold", "color": "#333"}, "encoding": {"x": {"datum": 574, "type": "quantitative", "axis": null}, "text": {"value": "Std. Mean Difference"}}}
     ]},
    {"encoding": {"y": {"datum": -0.06, "type": "quantitative", "axis": null}},
     "layer": [
      {"mark": {"type": "text", "align": "left", "fontWeight": "bold", "color": "#333"}, "encoding": {"x": {"datum": 16, "type": "quantitative", "axis": null}, "text": {"value": "Study or Subgroup"}}},
      {"mark": {"type": "text", "align": "right", "fontWeight": "bold", "color": "#333"}, "encoding": {"x": {"datum": 208, "type": "quantitative", "axis": null}, "text": {"value": "Mean"}}},
      {"mark": {"type": "text", "align": "right", "fontWeight": "bold", "color": "#333"}, "encoding": {"x": {"datum": 262, "type": "quantitative", "axis": null}, "text": {"value": "SD"}}},
      {"mark": {"type": "text", "align": "right", "fontWeight": "bold", "color": "#333"}, "encoding": {"x": {"datum": 318, "type": "quantitative", "axis": null}, "text": {"value": "Total"}}},
      {"mark": {"type": "text", "align": "right", "fontWeight": "bold", "color": "#333"}, "encoding": {"x": {"datum": 357, "type": "quantitative", "axis": null}, "text": {"value": "Mean"}}},
      {"mark": {"type": "text", "align": "right", "fontWeight": "bold", "color": "#333"}, "encoding": {"x": {"datum": 402, "type": "quantitative", "axis": null}, "text": {"value": "SD"}}},
      {"mark": {"type": "text", "align": "right", "fontWeight": "bold", "color": "#333"}, "encoding": {"x": {"datum": 446, "type": "quantitative", "axis": null}, "text": {"value": "Total"}}},
      {"mark": {"type": "text", "align": "right", "fontWeight": "bold", "color": "#333"}, "encoding": {"x": {"datum": 497, "type": "quantitative", "axis": null}, "text": {"value": "Weight"}}},
      {"mark": {"type": "text", "align": "center", "fontWeight": "bold", "color": "#333"}, "encoding": {"x": {"datum": 585, "type": "quantitative", "axis": null}, "text": {"value": "IV, Random, 95% CI"}}}
     ]},
    {"mark": {"type": "rule", "color": "#333", "strokeWidth": 1.5}, "encoding": {"x": {"datum": 5, "type": "quantitative", "axis": null}, "x2": {"datum": 1078}, "y": {"datum": 0.42, "type": "quantitative", "axis": null}}}
   ]}
 ]},
 {"layer": [
  {"data": {"name": "Ds"}, "mark": {"type": "rule", "color": "#333", "strokeWidth": 1.5}, "encoding": {"x": {"datum": -6, "type": "quantitative", "scale": {"domain": [-6, 6], "range": [654, 1066], "nice": false, "zero": false}, "axis": null}, "x2": {"datum": 6}, "y": {"datum": 9.97, "type": "quantitative", "scale": {"domain": [-5.406, 9.97], "reverse": true, "nice": false, "zero": false}, "axis": null}}},
  {"data": {"name": "ticks"}, "mark": {"type": "rule", "color": "#333", "strokeWidth": 1.5}, "encoding": {"x": {"field": "v", "type": "quantitative", "axis": null}, "y": {"datum": 9.748, "type": "quantitative", "axis": null}, "y2": {"datum": 10.192}}},
  {"data": {"name": "ticks"}, "mark": {"type": "text", "align": "center"}, "encoding": {"x": {"field": "v", "type": "quantitative", "axis": null}, "y": {"datum": 10.57, "type": "quantitative", "axis": null}, "text": {"field": "v", "type": "nominal"}}},
  {"data": {"name": "D"}, "transform": [{"window": [{"op": "row_number", "as": "row"}]}], "mark": {"type": "rule", "color": "#333", "strokeWidth": 1.5}, "encoding": {"x": {"field": "lo", "type": "quantitative", "axis": null}, "x2": {"field": "hi"}, "y": {"field": "row", "type": "quantitative", "axis": null}}},
  {"data": {"name": "D"}, "transform": [{"window": [{"op": "row_number", "as": "row"}]}], "mark": {"type": "point", "shape": "square", "filled": true, "color": "#00c800", "opacity": 1, "strokeWidth": 0}, "encoding": {"x": {"field": "est", "type": "quantitative", "axis": null}, "y": {"field": "row", "type": "quantitative", "axis": null}, "size": {"field": "w", "type": "quantitative", "scale": {"domain": [0, 1], "range": [0, 160]}, "legend": null}}},
  {"data": {"name": "Ds"}, "mark": {"type": "point", "shape": "M-1,0L0,-0.874L1,0L0,0.874Z", "size": 306, "filled": true, "color": "#000", "opacity": 1, "strokeWidth": 0}, "encoding": {"x": {"field": "est", "type": "quantitative", "axis": null}, "y": {"datum": 8.97, "type": "quantitative", "axis": null}}},
  {"data": {"name": "Ds"}, "mark": {"type": "rule", "color": "#333", "strokeWidth": 1.5}, "encoding": {"x": {"datum": 0, "type": "quantitative", "axis": null}, "y": {"datum": 0.42, "type": "quantitative", "axis": null}, "y2": {"datum": 9.97}}},
  {"data": {"name": "Ds"}, "mark": {"type": "text", "align": "center", "fontWeight": "bold", "color": "#333"}, "encoding": {"x": {"datum": 0, "type": "quantitative", "axis": null}, "y": {"datum": -1.05, "type": "quantitative", "axis": null}, "text": {"value": "Std. Mean Difference"}}},
  {"data": {"name": "Ds"}, "mark": {"type": "text", "align": "center", "fontWeight": "bold", "color": "#333"}, "encoding": {"x": {"datum": 0, "type": "quantitative", "axis": null}, "y": {"datum": -0.06, "type": "quantitative", "axis": null}, "text": {"value": "IV, Random, 95% CI"}}},
  {"data": {"name": "Ds"}, "mark": {"type": "text", "align": "right"}, "encoding": {"x": {"datum": -0.3, "type": "quantitative", "axis": null}, "y": {"datum": 11.47, "type": "quantitative", "axis": null}, "text": {"value": "Favours [Dietary supplements]"}}},
  {"data": {"name": "Ds"}, "mark": {"type": "text", "align": "left"}, "encoding": {"x": {"datum": 0.19, "type": "quantitative", "axis": null}, "y": {"datum": 11.47, "type": "quantitative", "axis": null}, "text": {"value": "Favours [Placebos]"}}}
 ]}
]
},
{
"width": 1084, "height": 216.7,
"resolve": {"scale": {"x": "independent"}},
"layer": [
 {"layer": [
  {"data": {"name": "E"},
   "transform": [{"window": [{"op": "row_number", "as": "row"}]}],
   "encoding": {"y": {"field": "row", "type": "quantitative", "scale": {"domain": [-4.978, 7.06], "reverse": true, "nice": false, "zero": false}, "axis": null}},
   "layer": [
    {"mark": {"type": "text", "align": "left"}, "encoding": {"x": {"datum": 16, "type": "quantitative", "scale": {"domain": [0, 1084], "nice": false, "zero": false}, "axis": null}, "text": {"field": "study", "type": "nominal"}}},
    {"mark": {"type": "text", "align": "right"}, "encoding": {"x": {"datum": 208, "type": "quantitative", "axis": null}, "text": {"field": "m1", "type": "nominal"}}},
    {"mark": {"type": "text", "align": "right"}, "encoding": {"x": {"datum": 262, "type": "quantitative", "axis": null}, "text": {"field": "sd1", "type": "nominal"}}},
    {"mark": {"type": "text", "align": "right"}, "encoding": {"x": {"datum": 318, "type": "quantitative", "axis": null}, "text": {"field": "n1", "type": "nominal"}}},
    {"mark": {"type": "text", "align": "right"}, "encoding": {"x": {"datum": 353, "type": "quantitative", "axis": null}, "text": {"field": "m2", "type": "nominal"}}},
    {"mark": {"type": "text", "align": "right"}, "encoding": {"x": {"datum": 402, "type": "quantitative", "axis": null}, "text": {"field": "sd2", "type": "nominal"}}},
    {"mark": {"type": "text", "align": "right"}, "encoding": {"x": {"datum": 446, "type": "quantitative", "axis": null}, "text": {"field": "n2", "type": "nominal"}}},
    {"mark": {"type": "text", "align": "right"}, "encoding": {"x": {"datum": 500, "type": "quantitative", "axis": null}, "text": {"field": "w", "type": "quantitative", "format": ".1%"}}},
    {"mark": {"type": "text", "align": "right"}, "encoding": {"x": {"datum": 647, "type": "quantitative", "axis": null}, "text": {"field": "ci", "type": "nominal"}}}
   ]},
  {"data": {"name": "Es"},
   "layer": [
    {"encoding": {"y": {"datum": 6.04, "type": "quantitative", "axis": null}},
     "layer": [
      {"mark": {"type": "text", "align": "left", "fontWeight": "bold"}, "encoding": {"x": {"datum": 16, "type": "quantitative", "axis": null}, "text": {"value": "Total (95% CI)"}}},
      {"mark": {"type": "text", "align": "right", "fontWeight": "bold"}, "encoding": {"x": {"datum": 318, "type": "quantitative", "axis": null}, "text": {"field": "n1", "type": "nominal"}}},
      {"mark": {"type": "text", "align": "right", "fontWeight": "bold"}, "encoding": {"x": {"datum": 446, "type": "quantitative", "axis": null}, "text": {"field": "n2", "type": "nominal"}}},
      {"mark": {"type": "text", "align": "right", "fontWeight": "bold"}, "encoding": {"x": {"datum": 500, "type": "quantitative", "axis": null}, "text": {"value": "100.0%"}}},
      {"mark": {"type": "text", "align": "right", "fontWeight": "bold"}, "encoding": {"x": {"datum": 647, "type": "quantitative", "axis": null}, "text": {"field": "ci", "type": "nominal"}}}
     ]},
    {"mark": {"type": "text", "align": "left"}, "encoding": {"x": {"datum": 16, "type": "quantitative", "axis": null}, "y": {"datum": 6.84, "type": "quantitative", "axis": null}, "text": {"field": "het", "type": "nominal"}}},
    {"mark": {"type": "text", "align": "left"}, "encoding": {"x": {"datum": 16, "type": "quantitative", "axis": null}, "y": {"datum": 7.64, "type": "quantitative", "axis": null}, "text": {"field": "test", "type": "nominal"}}},
    {"mark": {"type": "text", "align": "left", "fontWeight": "bold", "fontSize": 16}, "encoding": {"x": {"datum": 6, "type": "quantitative", "axis": null}, "y": {"datum": -2.23, "type": "quantitative", "axis": null}, "text": {"value": "E"}}},
    {"encoding": {"y": {"datum": -1.05, "type": "quantitative", "axis": null}},
     "layer": [
      {"mark": {"type": "text", "align": "center", "fontWeight": "bold", "color": "#333"}, "encoding": {"x": {"datum": 235, "type": "quantitative", "axis": null}, "text": {"value": "Dietary supplements"}}},
      {"mark": {"type": "text", "align": "center", "fontWeight": "bold", "color": "#333"}, "encoding": {"x": {"datum": 385, "type": "quantitative", "axis": null}, "text": {"value": "Placebos"}}},
      {"mark": {"type": "text", "align": "center", "fontWeight": "bold", "color": "#333"}, "encoding": {"x": {"datum": 578, "type": "quantitative", "axis": null}, "text": {"value": "Std. Mean Difference"}}}
     ]},
    {"encoding": {"y": {"datum": -0.04, "type": "quantitative", "axis": null}},
     "layer": [
      {"mark": {"type": "text", "align": "left", "fontWeight": "bold", "color": "#333"}, "encoding": {"x": {"datum": 16, "type": "quantitative", "axis": null}, "text": {"value": "Study or Subgroup"}}},
      {"mark": {"type": "text", "align": "right", "fontWeight": "bold", "color": "#333"}, "encoding": {"x": {"datum": 208, "type": "quantitative", "axis": null}, "text": {"value": "Mean"}}},
      {"mark": {"type": "text", "align": "right", "fontWeight": "bold", "color": "#333"}, "encoding": {"x": {"datum": 262, "type": "quantitative", "axis": null}, "text": {"value": "SD"}}},
      {"mark": {"type": "text", "align": "right", "fontWeight": "bold", "color": "#333"}, "encoding": {"x": {"datum": 318, "type": "quantitative", "axis": null}, "text": {"value": "Total"}}},
      {"mark": {"type": "text", "align": "right", "fontWeight": "bold", "color": "#333"}, "encoding": {"x": {"datum": 358, "type": "quantitative", "axis": null}, "text": {"value": "Mean"}}},
      {"mark": {"type": "text", "align": "right", "fontWeight": "bold", "color": "#333"}, "encoding": {"x": {"datum": 402, "type": "quantitative", "axis": null}, "text": {"value": "SD"}}},
      {"mark": {"type": "text", "align": "right", "fontWeight": "bold", "color": "#333"}, "encoding": {"x": {"datum": 447, "type": "quantitative", "axis": null}, "text": {"value": "Total"}}},
      {"mark": {"type": "text", "align": "right", "fontWeight": "bold", "color": "#333"}, "encoding": {"x": {"datum": 502, "type": "quantitative", "axis": null}, "text": {"value": "Weight"}}},
      {"mark": {"type": "text", "align": "center", "fontWeight": "bold", "color": "#333"}, "encoding": {"x": {"datum": 589, "type": "quantitative", "axis": null}, "text": {"value": "IV, Random, 95% CI"}}}
     ]},
    {"mark": {"type": "rule", "color": "#333", "strokeWidth": 1.5}, "encoding": {"x": {"datum": 5, "type": "quantitative", "axis": null}, "x2": {"datum": 1078}, "y": {"datum": 0.43, "type": "quantitative", "axis": null}}}
   ]}
 ]},
 {"layer": [
  {"data": {"name": "Es"}, "mark": {"type": "rule", "color": "#333", "strokeWidth": 1.5}, "encoding": {"x": {"datum": -6, "type": "quantitative", "scale": {"domain": [-6, 6], "range": [659, 1066], "nice": false, "zero": false}, "axis": null}, "x2": {"datum": 6}, "y": {"datum": 7.06, "type": "quantitative", "scale": {"domain": [-4.978, 7.06], "reverse": true, "nice": false, "zero": false}, "axis": null}}},
  {"data": {"name": "ticks"}, "mark": {"type": "rule", "color": "#333", "strokeWidth": 1.5}, "encoding": {"x": {"field": "v", "type": "quantitative", "axis": null}, "y": {"datum": 6.838, "type": "quantitative", "axis": null}, "y2": {"datum": 7.282}}},
  {"data": {"name": "ticks"}, "mark": {"type": "text", "align": "center"}, "encoding": {"x": {"field": "v", "type": "quantitative", "axis": null}, "y": {"datum": 7.66, "type": "quantitative", "axis": null}, "text": {"field": "v", "type": "nominal"}}},
  {"data": {"name": "E"}, "transform": [{"window": [{"op": "row_number", "as": "row"}]}], "mark": {"type": "rule", "color": "#333", "strokeWidth": 1.5}, "encoding": {"x": {"field": "lo", "type": "quantitative", "axis": null}, "x2": {"field": "hi"}, "y": {"field": "row", "type": "quantitative", "axis": null}}},
  {"data": {"name": "E"}, "transform": [{"window": [{"op": "row_number", "as": "row"}]}], "mark": {"type": "point", "shape": "square", "filled": true, "color": "#00c800", "opacity": 1, "strokeWidth": 0}, "encoding": {"x": {"field": "est", "type": "quantitative", "axis": null}, "y": {"field": "row", "type": "quantitative", "axis": null}, "size": {"field": "w", "type": "quantitative", "scale": {"domain": [0, 1], "range": [0, 160]}, "legend": null}}},
  {"data": {"name": "Es"}, "mark": {"type": "point", "shape": "M-1,0L0,-0.543L1,0L0,0.543Z", "size": 795, "filled": true, "color": "#000", "opacity": 1, "strokeWidth": 0}, "encoding": {"x": {"field": "est", "type": "quantitative", "axis": null}, "y": {"datum": 6.04, "type": "quantitative", "axis": null}}},
  {"data": {"name": "Es"}, "mark": {"type": "rule", "color": "#333", "strokeWidth": 1.5}, "encoding": {"x": {"datum": 0, "type": "quantitative", "axis": null}, "y": {"datum": 0.43, "type": "quantitative", "axis": null}, "y2": {"datum": 7.06}}},
  {"data": {"name": "Es"}, "mark": {"type": "text", "align": "center", "fontWeight": "bold", "color": "#333"}, "encoding": {"x": {"datum": 0, "type": "quantitative", "axis": null}, "y": {"datum": -1.05, "type": "quantitative", "axis": null}, "text": {"value": "Std. Mean Difference"}}},
  {"data": {"name": "Es"}, "mark": {"type": "text", "align": "center", "fontWeight": "bold", "color": "#333"}, "encoding": {"x": {"datum": 0, "type": "quantitative", "axis": null}, "y": {"datum": -0.04, "type": "quantitative", "axis": null}, "text": {"value": "IV, Random, 95% CI"}}},
  {"data": {"name": "Es"}, "mark": {"type": "text", "align": "right"}, "encoding": {"x": {"datum": -0.32, "type": "quantitative", "axis": null}, "y": {"datum": 8.56, "type": "quantitative", "axis": null}, "text": {"value": "Favours [Dietary supplements]"}}},
  {"data": {"name": "Es"}, "mark": {"type": "text", "align": "left"}, "encoding": {"x": {"datum": 0.19, "type": "quantitative", "axis": null}, "y": {"datum": 8.56, "type": "quantitative", "axis": null}, "text": {"value": "Favours [Placebos]"}}}
 ]}
]
}
]
}
